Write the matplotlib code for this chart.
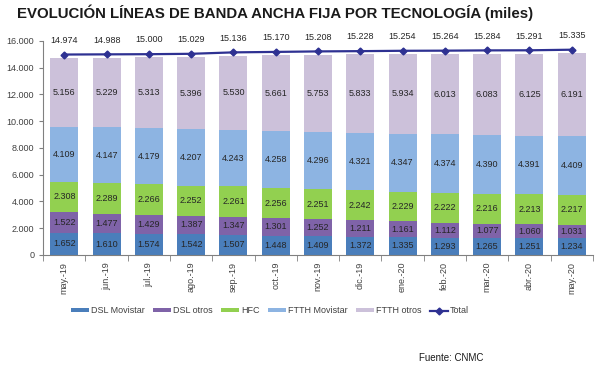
import numpy as np
import matplotlib.pyplot as plt
from matplotlib.ticker import FuncFormatter

plt.rcParams['font.family'] = ['Liberation Sans', 'DejaVu Sans']

# Data (miles de líneas)
meses = ['may.-19', 'jun.-19', 'jul.-19', 'ago.-19', 'sep.-19', 'oct.-19', 'nov.-19',
         'dic.-19', 'ene.-20', 'feb.-20', 'mar.-20', 'abr.-20', 'may.-20']
dsl_movistar = [1652, 1610, 1574, 1542, 1507, 1448, 1409, 1372, 1335, 1293, 1265, 1251, 1234]
dsl_otros = [1522, 1477, 1429, 1387, 1347, 1301, 1252, 1211, 1161, 1112, 1077, 1060, 1031]
hfc = [2308, 2289, 2266, 2252, 2261, 2256, 2251, 2242, 2229, 2222, 2216, 2213, 2217]
ftth_movistar = [4109, 4147, 4179, 4207, 4243, 4258, 4296, 4321, 4347, 4374, 4390, 4391, 4409]
ftth_otros = [5156, 5229, 5313, 5396, 5530, 5661, 5753, 5833, 5934, 6013, 6083, 6125, 6191]
total = [14974, 14988, 15000, 15029, 15136, 15170, 15208, 15228, 15254, 15264, 15284, 15291, 15335]

series = [
    ('DSL Movistar', dsl_movistar, '#4a7ebb'),
    ('DSL otros', dsl_otros, '#7f63a8'),
    ('HFC', hfc, '#92d050'),
    ('FTTH Movistar', ftth_movistar, '#8db4e2'),
    ('FTTH otros', ftth_otros, '#ccc1da'),
]


def miles(v, pos=None):
    return f'{int(v):,}'.replace(',', '.')


fig = plt.figure(figsize=(6, 3.71), dpi=100)
ax = fig.add_axes([0.072, 0.313, 0.916, 0.577])

x = np.arange(len(meses))
bottom = np.zeros(len(meses))
handles = []
for name, vals, col in series:
    vals = np.array(vals)
    h = ax.bar(x, vals, 0.66, bottom=bottom, color=col, label=name, zorder=2)
    handles.append(h)
    for xi, b, v in zip(x, bottom, vals):
        ax.text(xi, b + v / 2, miles(v), ha='center', va='center',
                fontsize=6.5, color='#262626', zorder=3)
    bottom += vals

line, = ax.plot(x, total, color='#2e3192', lw=1.6, marker='D', ms=3.5, label='Total', zorder=4)
handles.append(line)
for xi, v in zip(x, total):
    ax.annotate(miles(v), (xi, v), xytext=(0, 7), textcoords='offset points',
                ha='center', va='bottom', fontsize=6.5, color='#262626')

ax.set_xlim(-0.5, len(meses) - 0.5)
ax.set_ylim(0, 16000)
ax.set_yticks(np.arange(0, 16001, 2000))
ax.yaxis.set_major_formatter(FuncFormatter(miles))
ax.set_xticks(x)
ax.set_xticklabels(meses, rotation=90, fontsize=6.5, color='#404040')
ax.set_xticks(np.arange(-0.5, len(meses)), minor=True)
ax.tick_params(axis='x', which='major', length=0, pad=5)
ax.tick_params(axis='x', which='minor', length=4, color='#808080')
ax.tick_params(axis='y', labelsize=6.5, labelcolor='#404040', length=3, color='#808080')
for s in ['top', 'right']:
    ax.spines[s].set_visible(False)
for s in ['left', 'bottom']:
    ax.spines[s].set_color('#808080')

labels = [h.get_label() for h in handles]
leg = fig.legend(handles, labels, loc='center', bbox_to_anchor=(0.45, 0.162), ncol=6,
                 frameon=False, fontsize=6.5, handlelength=2.0, handleheight=0.35,
                 columnspacing=0.9, handletextpad=0.25)
for t in leg.get_texts():
    t.set_color('#404040')

fig.text(0.028, 0.965, 'EVOLUCIÓN LÍNEAS DE BANDA ANCHA FIJA POR TECNOLOGÍA (miles)',
         fontsize=10.8, fontweight='bold', color='#1a1a1a', va='center', ha='left')
fig.text(0.805, 0.035, 'Fuente: CNMC', fontsize=7, color='#1a1a1a', va='center', ha='right')

fig.savefig('out.png', dpi=100)
